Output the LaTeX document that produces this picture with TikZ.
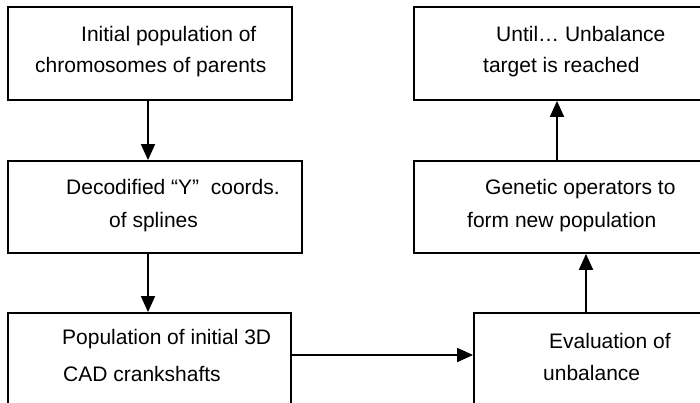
\documentclass[tikz,border=0pt]{standalone}
\usepackage{fontspec}
\setmainfont{Liberation Sans}
\usetikzlibrary{arrows.meta}
\begin{document}
\begin{tikzpicture}[x=1pt,y=-1pt,
    box/.style={draw, line width=1.8pt, rectangle, inner sep=0pt},
    txt/.style={anchor=base west, inner sep=0pt, font=\fontsize{21}{25}\selectfont},
    arr/.style={line width=1.8pt, -{Triangle[width=14pt,length=16pt]}}]
    \useasboundingbox (0,0) rectangle (700,403);
    \clip (0,0) rectangle (700,403);
    % left column
    \node[box, minimum width=284pt, minimum height=93pt] (init) at (150,53.5) {};
    \node[box, minimum width=294pt, minimum height=92pt] (decod) at (155,207) {};
    \node[box, minimum width=283pt, minimum height=95pt] (pop) at (149.5,360.5) {};
    % right column
    \node[box, minimum width=291pt, minimum height=93pt] (goal) at (559.5,53.5) {};
    \node[box, minimum width=291pt, minimum height=92pt] (oper) at (559.5,207) {};
    \node[box, minimum width=231pt, minimum height=95pt] (eval) at (589.5,360.5) {};
    % texts
    \node[txt] (initA) at (81,42) {Initial population of};
    \node[txt] (initB) at (35,73) {chromosomes of parents};
    \node[txt] (decodA) at (66,195) {Decodified “Y”\ \ coords.};
    \node[txt] (decodB) at (109,227) {of splines};
    \node[txt] (popA) at (62,344) {Population of initial 3D};
    \node[txt] (popB) at (63,381) {CAD crankshafts};
    \node[txt] (goalA) at (496,42) {Until… Unbalance};
    \node[txt] (goalB) at (483,73) {target is reached};
    \node[txt] (operA) at (485,195) {Genetic operators to};
    \node[txt] (operB) at (467,227) {form new population};
    \node[txt] (evalA) at (549,348) {Evaluation of};
    \node[txt] (evalB) at (543,380) {unbalance};
    % flow
    \draw[arr] ([xshift=-2pt]init.south) -- ([xshift=-2pt]init.south |- decod.north);
    \draw[arr] ([xshift=-7pt]decod.south) -- ([xshift=-7pt]decod.south |- pop.north);
    \draw[arr] ([yshift=5.5pt]pop.east) -- ([yshift=5.5pt]pop.east -| eval.west);
    \draw[arr] ([xshift=-3.5pt]eval.north) -- ([xshift=-3.5pt]eval.north |- oper.south);
    \draw[arr] ([xshift=-2.5pt]oper.north) -- ([xshift=-2.5pt]oper.north |- goal.south);
\end{tikzpicture}
\end{document}
